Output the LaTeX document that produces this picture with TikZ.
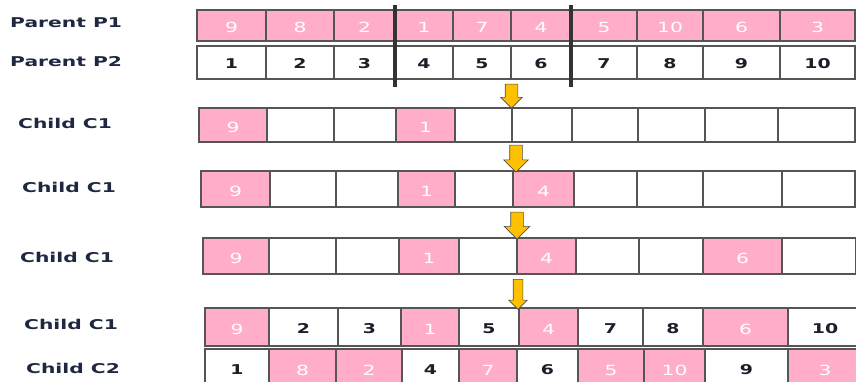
\documentclass[tikz,border=0pt]{standalone}
\usepackage{fontspec}
\usetikzlibrary{shapes.arrows}
\newfontfamily\lblfont[FakeStretch=1.5]{DejaVu Sans Bold}
\newfontfamily\numfont[FakeStretch=1.45]{DejaVu Sans}
\newfontfamily\numboldfont[FakeStretch=1.4]{DejaVu Sans Bold}
\definecolor{cellpink}{HTML}{FFADC8}
\definecolor{celledge}{HTML}{555555}
\definecolor{numdark}{HTML}{1E1E2A}
\definecolor{lbldark}{HTML}{1F2840}
\definecolor{arrgold}{HTML}{FFC000}
\tikzset{
  cellbase/.style={draw=celledge, line width=1.2pt, inner sep=0pt},
  P/.style={cellbase, fill=cellpink, text=white, font=\numfont\fontsize{14}{14}\selectfont, text depth=0pt, text height=14pt},
  W/.style={cellbase, fill=white, text=numdark, font=\numboldfont\fontsize{13.5}{13.5}\selectfont, text depth=0pt, text height=12pt},
  E/.style={cellbase, fill=white},
  lbl/.style={anchor=west, inner sep=0pt, text=lbldark, font=\lblfont\fontsize{13.5}{13.5}\selectfont},
  downarrow/.style={single arrow, draw=black!70, line width=0.6pt, fill=arrgold, rotate=-90, single arrow tip angle=90},
  bar/.style={line width=3.5pt, draw=black!80}
}
\newcommand{\cellrow}[4]{%
  \foreach \a/\b/\v/\s [count=\i] in {#4} {
    \node[\s, minimum width={(\b-\a)*1pt}, minimum height={(#3-#2)*1pt}] (#1-\i) at ({(\a+\b)/2},{(#2+#3)/2}) {\v};
  }%
}
\begin{document}
\begin{tikzpicture}[x=1pt,y=-1pt]
\useasboundingbox (0,0) rectangle (856,381);
% labels
\node[lbl] (l1) at (10,23) {Parent P1};
\node[lbl] (l2) at (10,62) {Parent P2};
\node[lbl] (l3) at (18,123) {Child C1};
\node[lbl] (l4) at (22,187) {Child C1};
\node[lbl] (l5) at (20,257) {Child C1};
\node[lbl] (l6) at (24,324) {Child C1};
\node[lbl] (l7) at (26,368) {Child C2};
% rows
\cellrow{r1}{10}{41}{197/266/9/P,266/334/8/P,334/395/2/P,395/453/1/P,453/511/7/P,511/571/4/P,571/637/5/P,637/703/10/P,703/780/6/P,780/855/3/P}
\cellrow{r2}{46}{79}{197/266/1/W,266/334/2/W,334/395/3/W,395/453/4/W,453/511/5/W,511/571/6/W,571/637/7/W,637/703/8/W,703/780/9/W,780/855/10/W}
\cellrow{r3}{108}{142}{199/267/9/P,267/334/{}/E,334/396/{}/E,396/455/1/P,455/512/{}/E,512/572/{}/E,572/638/{}/E,638/705/{}/E,705/778/{}/E,778/855/{}/E}
\cellrow{r4}{171}{207}{201/270/9/P,270/336/{}/E,336/398/{}/E,398/455/1/P,455/513/{}/E,513/574/4/P,574/637/{}/E,637/703/{}/E,703/782/{}/E,782/855/{}/E}
\cellrow{r5}{238}{274}{203/269/9/P,269/336/{}/E,336/399/{}/E,399/459/1/P,459/517/{}/E,517/576/4/P,576/639/{}/E,639/703/{}/E,703/782/6/P,782/856/{}/E}
\cellrow{r6}{308}{346}{205/269/9/P,269/338/2/W,338/401/3/W,401/459/1/P,459/519/5/W,519/578/4/P,578/643/7/W,643/703/8/W,703/788/6/P,788/862/10/W}
\cellrow{r7}{349}{388}{205/269/1/W,269/336/8/P,336/402/2/P,402/459/4/W,459/517/7/P,517/578/6/W,578/644/5/P,644/705/10/P,705/788/9/W,788/862/3/P}
% crossover cut bars
\coordinate (b1t) at (395,5);
\coordinate (b1b) at (395,87);
\coordinate (b2t) at (571,5);
\coordinate (b2b) at (571,87);
\draw[bar] (b1t) -- (b1b);
\draw[bar] (b2t) -- (b2b);
% arrows
\node[downarrow, inner sep=6pt, minimum height=24pt, single arrow head extend=4.5pt] (a1) at (511.5,93) {};
\node[downarrow, inner sep=6pt, minimum height=27pt, single arrow head extend=6pt] (a2) at (516,155.5) {};
\node[downarrow, inner sep=6pt, minimum height=27pt, single arrow head extend=6.5pt] (a3) at (517,222.5) {};
\node[downarrow, inner sep=4.5pt, minimum height=30pt, single arrow head extend=4.5pt] (a4) at (518,292) {};
\end{tikzpicture}
\end{document}
